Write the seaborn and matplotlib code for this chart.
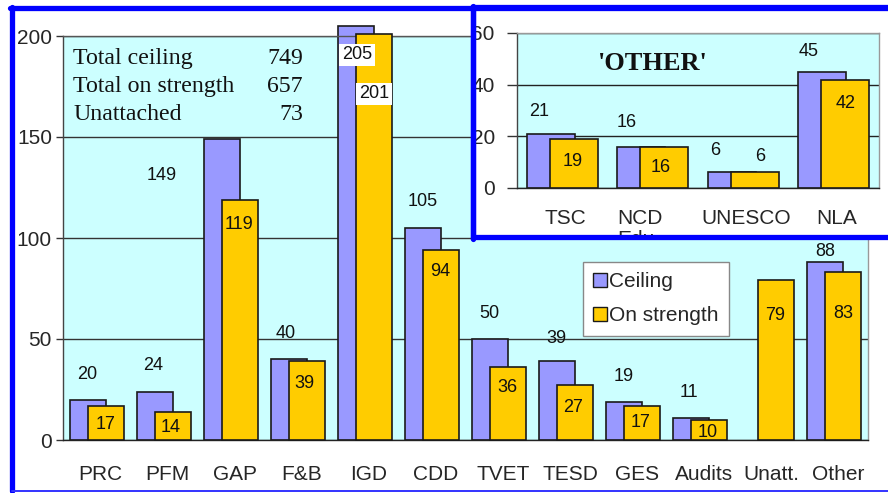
import numpy as np
import matplotlib
matplotlib.use("Agg")
import matplotlib.pyplot as plt
from matplotlib.patches import Rectangle, Patch
from matplotlib.lines import Line2D
from matplotlib.transforms import Bbox, TransformedBbox, ScaledTranslation
import seaborn as sns

# ---- data -------------------------------------------------------------
categories = ["PRC", "PFM", "GAP", "F&B", "IGD", "CDD", "TVET", "TESD",
              "GES", "Audits", "Unatt.", "Other"]
ceiling = [20, 24, 149, 40, 205, 105, 50, 39, 19, 11, np.nan, 88]
on_strength = [17, 14, 119, 39, 201, 94, 36, 27, 17, 10, 79, 83]

other_categories = ["TSC", "NCD\nEdu", "UNESCO", "NLA"]
other_ceiling = [21, 16, 6, 45]
other_on_strength = [19, 16, 6, 42]

summary_labels = ["Total ceiling", "Total on strength", "Unattached"]
summary_values = [749, 657, 73]

main_yticks = [0, 50, 100, 150, 200]
other_yticks = [0, 20, 40, 60]

# ---- style ------------------------------------------------------------
W, H, DPI = 888, 493, 100
C_CEIL = "#9999FF"
C_STR = "#FFCC00"
C_BG = "#CCFFFF"
EDGE = "#1a1a1a"
BLUE = "#0000FF"
LABEL_FS = 13

sns.set_style("white")
plt.rcParams["font.family"] = ["Liberation Sans", "DejaVu Sans"]

# label offsets (pixels) relative to bar centre / bar top
ceil_off = [(0, 25), (-1.5, 26.5), (-60, -36), (-3, 26), (1, -29), (0, 26),
            (-1, 26), (-1, 23), (-1, 25), (-2, 25), None, (0, 11)]
str_off = [(0, -19), (-1.5, -15.5), (-1, -25), (-2, -22), (0, -60), (-1, -21),
           (-1, -20), (-2, -22), (-2, -17), (-2, -13), (-1, -35), (0, -41)]
boxed = {4}
oth_ceil_off = [(-12, 22), (-15, 24), (-17, 22), (-14, 20)]
oth_str_off = [(-1.5, -23), (-3.5, -21), (5.5, 15.5), (0.5, -24.5)]


def fx(px):
    return px / W


def fy(py):
    return 1 - py / H


def shift(dx_px, dy_px=0):
    return ScaledTranslation(dx_px / DPI, dy_px / DPI, fig.dpi_scale_trans)


fig = plt.figure(figsize=(W / DPI, H / DPI), dpi=DPI)
fig.patch.set_facecolor("white")

# ---- main chart -------------------------------------------------------
ax = fig.add_axes([fx(63), fy(440), fx(868) - fx(63), fy(36) - fy(440)])
ax.set_zorder(0)
ax.set_facecolor(C_BG)

BW, OFF = 0.537, 0.134
sns.barplot(x=categories, y=ceiling, order=categories, color=C_CEIL,
            saturation=1, width=BW, edgecolor=EDGE, linewidth=1.2,
            clip_on=False, zorder=2, ax=ax)
n_ceil = len(ax.patches)
sns.barplot(x=categories, y=on_strength, order=categories, color=C_STR,
            saturation=1, width=BW, edgecolor=EDGE, linewidth=1.2,
            clip_on=False, zorder=3, ax=ax)
for i, p in enumerate(ax.patches):
    p.set_x(p.get_x() + (-OFF if i < n_ceil else OFF))

ax.set_xlim(-0.5, len(categories) - 0.5)
ax.set_ylim(0, 200)
ax.set_xlabel("")
ax.set_ylabel("")
ax.set_yticks(main_yticks)
ax.set_yticklabels([str(v) for v in main_yticks], fontsize=15)
ax.set_xticks(range(len(categories)))
ax.set_xticklabels(categories, fontsize=15)
ax.set_xticks(np.arange(-0.5, len(categories), 1), minor=True)
ax.tick_params(axis="x", which="major", length=0, pad=18)
ax.tick_params(axis="x", which="minor", length=5, width=1, color="#333333",
               direction="out")
ax.tick_params(axis="y", length=5, width=1, color="#333333", direction="out",
               pad=3, left=True)
for lbl in ax.get_xticklabels():
    lbl.set_transform(lbl.get_transform() + shift(4))
ax.set_axisbelow(True)
ax.yaxis.grid(True, color="#333333", lw=1)
for side, col in [("left", "#444444"), ("bottom", "#222222"),
                  ("right", "#999999"), ("top", "#555555")]:
    ax.spines[side].set_visible(True)
    ax.spines[side].set_color(col)
    ax.spines[side].set_linewidth(1)

for i, (c, s) in enumerate(zip(ceiling, on_strength)):
    bb = dict(boxstyle="square,pad=0.15", fc="white", ec="none") if i in boxed else None
    if not np.isnan(c) and ceil_off[i] is not None:
        ax.annotate(f"{c:g}", xy=(i - OFF, c), xytext=ceil_off[i],
                    textcoords="offset pixels", ha="center", va="center",
                    fontsize=LABEL_FS, color="#111111", zorder=6,
                    annotation_clip=False, bbox=bb)
    ax.annotate(f"{s:g}", xy=(i + OFF, s), xytext=str_off[i],
                textcoords="offset pixels", ha="center", va="center",
                fontsize=LABEL_FS, color="#111111", zorder=6,
                annotation_clip=False, bbox=bb)

ax.legend(handles=[Patch(fc=C_CEIL, ec=EDGE, lw=1, label="Ceiling"),
                   Patch(fc=C_STR, ec=EDGE, lw=1, label="On strength")],
          loc="upper left", bbox_to_anchor=(0.646, 0.4406), fontsize=15,
          frameon=True, fancybox=False, edgecolor="#888888", framealpha=1,
          borderpad=0.5, borderaxespad=0, handlelength=0.67,
          handleheight=0.67, handletextpad=0.08, labelspacing=0.72)

# summary block
for k, (lab, val) in enumerate(zip(summary_labels, summary_values)):
    yb = fy(64 + 28 * k)
    fig.text(fx(73), yb, lab, ha="left", va="baseline", fontsize=17.2,
             family="Liberation Serif", color="#111111")
    fig.text(fx(303), yb, str(val), ha="right", va="baseline", fontsize=17.2,
             family="Liberation Serif", color="#111111")

# ---- frame around the whole chart -------------------------------------
fig.add_artist(Line2D([fx(12), fx(12)], [fy(7), fy(491)], color=BLUE, lw=3.8,
                      transform=fig.transFigure, zorder=5))
fig.add_artist(Line2D([fx(10), 1.01], [fy(7.5), fy(7.5)], color=BLUE, lw=3.8,
                      transform=fig.transFigure, zorder=5))
fig.add_artist(Line2D([fx(12), 1.01], [fy(490.5), fy(490.5)], color="#3333FF",
                      lw=1.4, transform=fig.transFigure, zorder=5))

# ---- 'OTHER' panel ----------------------------------------------------
fig.add_artist(Rectangle((fx(472.5), fy(237)), 1.05 - fx(472.5),
                         fy(7.5) - fy(237), transform=fig.transFigure,
                         fc="white", ec=BLUE, lw=3.8, zorder=1))
fig.add_artist(Line2D([fx(472.5), fx(472.5)], [fy(5.5), fy(239)], color=BLUE,
                      lw=3.8, transform=fig.transFigure, zorder=3))

ax2 = fig.add_axes([fx(517), fy(188), fx(879) - fx(517), fy(33) - fy(188)])
ax2.set_zorder(2)
ax2.set_facecolor(C_BG)

BW2, OFF2 = 0.53, 0.127
sns.barplot(x=other_categories, y=other_ceiling, order=other_categories,
            color=C_CEIL, saturation=1, width=BW2, edgecolor=EDGE,
            linewidth=1.2, zorder=2, ax=ax2)
n2 = len(ax2.patches)
sns.barplot(x=other_categories, y=other_on_strength, order=other_categories,
            color=C_STR, saturation=1, width=BW2, edgecolor=EDGE,
            linewidth=1.2, zorder=3, ax=ax2)
for i, p in enumerate(ax2.patches):
    p.set_x(p.get_x() + (-OFF2 if i < n2 else OFF2))

ax2.set_xlim(-0.5, len(other_categories) - 0.5)
ax2.set_ylim(0, 60)
ax2.set_xlabel("")
ax2.set_ylabel("")
ax2.set_yticks(other_yticks)
ax2.set_yticklabels([str(v) for v in other_yticks], fontsize=15)
ax2.set_xticks(range(len(other_categories)))
ax2.set_xticklabels(other_categories, fontsize=15, va="top",
                    linespacing=1.15, multialignment="left")
ax2.set_xticks(np.arange(-0.5, len(other_categories), 1), minor=True)
ax2.tick_params(axis="x", which="major", length=0, pad=15)
ax2.tick_params(axis="x", which="minor", length=5, width=1, color="#333333",
                direction="out")
ax2.tick_params(axis="y", length=7, width=1, color="#333333", direction="out",
                pad=9, left=True)
ax2.set_axisbelow(True)
ax2.yaxis.grid(True, color="#222222", lw=1)
for side, col in [("left", "#444444"), ("bottom", "#222222"),
                  ("right", "#999999"), ("top", "#999999")]:
    ax2.spines[side].set_visible(True)
    ax2.spines[side].set_color(col)
    ax2.spines[side].set_linewidth(1)

clip = TransformedBbox(Bbox([[0, fy(235)], [1, 1]]), fig.transFigure)
for k, lbl in enumerate(ax2.get_xticklabels()):
    lbl.set_clip_box(clip)
    lbl.set_clip_on(True)
    if "\n" in lbl.get_text():
        # wrapped label sits left-aligned under its column
        lbl.set_ha("left")
        lbl.set_transform(lbl.get_transform() + shift(-36))
    else:
        lbl.set_transform(lbl.get_transform() + shift(3))

for i, (c, s) in enumerate(zip(other_ceiling, other_on_strength)):
    ax2.annotate(f"{c:g}", xy=(i - OFF2, c), xytext=oth_ceil_off[i],
                 textcoords="offset pixels", ha="center", va="center",
                 fontsize=LABEL_FS, color="#111111", zorder=6,
                 annotation_clip=False)
    ax2.annotate(f"{s:g}", xy=(i + OFF2, s), xytext=oth_str_off[i],
                 textcoords="offset pixels", ha="center", va="center",
                 fontsize=LABEL_FS, color="#111111", zorder=6,
                 annotation_clip=False)

ax2.text(0.375, 0.80, "'OTHER'", transform=ax2.transAxes, ha="center",
         va="center", fontsize=19, fontweight="bold",
         family="Liberation Serif", color="#111111")

fig.savefig("out.png", dpi=DPI, facecolor="white")
